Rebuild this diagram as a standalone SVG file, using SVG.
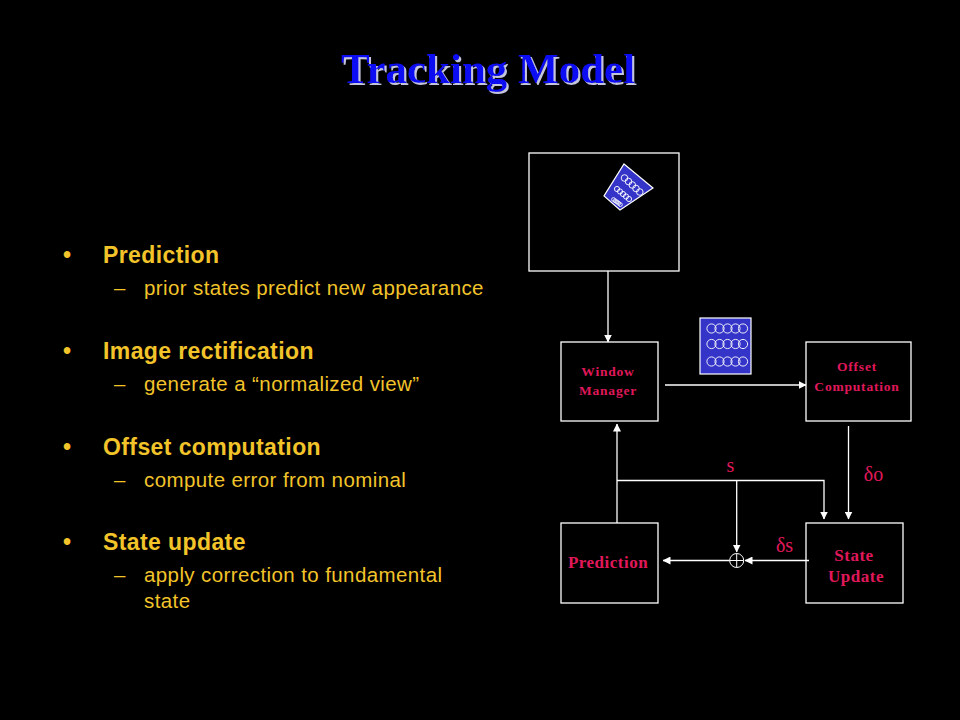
<svg xmlns="http://www.w3.org/2000/svg" width="960" height="720" viewBox="0 0 960 720">
<defs>
<marker id="ah" markerWidth="8" markerHeight="8" refX="7.5" refY="4" orient="auto" markerUnits="userSpaceOnUse">
<path d="M0,0 L8,4 L0,8 z" fill="#ffffff"/>
</marker>
<filter id="shadow" x="-5%" y="-20%" width="110%" height="150%">
<feOffset in="SourceAlpha" dx="2" dy="2" result="off"/>
<feFlood flood-color="#c4c4dc" result="col"/>
<feComposite in="col" in2="off" operator="in" result="sh"/>
<feMerge><feMergeNode in="sh"/><feMergeNode in="SourceGraphic"/></feMerge>
</filter>
<style>
.bg{fill:#000000}
.title{font-family:"Liberation Serif","Times New Roman",serif;font-weight:bold;font-size:43px;text-anchor:middle;fill:#1010f4}
.head{font-family:"Liberation Sans",Arial,sans-serif;font-weight:bold;font-size:23px;letter-spacing:0.4px;fill:#f2c42a}
.sub{font-family:"Liberation Sans",Arial,sans-serif;font-size:20.5px;letter-spacing:0.4px;fill:#f2c42a}
.box{fill:none;stroke:#ffffff;stroke-width:1.3}
.lbl{font-family:"Liberation Serif","Times New Roman",serif;font-weight:bold;fill:#e0185a;text-anchor:middle}
.small{font-size:13.5px;letter-spacing:0.8px}
.big{font-size:17px;letter-spacing:0.5px}
.sym{font-family:"Liberation Serif","Times New Roman",serif;fill:#e0185a;text-anchor:middle;font-size:20px}
.conn{fill:none;stroke:#ffffff;stroke-width:1.3}
.ring{fill:none;stroke:#ffffff;stroke-width:0.9}
.chip{fill:#3434c8;stroke:#ffffff;stroke-width:1.2}
</style>
</defs>
<rect class="bg" x="0" y="0" width="960" height="720"/>

<g id="title">
<text class="title" x="488" y="83" filter="url(#shadow)">Tracking Model</text>
</g>

<g id="bullets">
<text class="head" x="63" y="263">•</text>
<text class="head" x="103" y="263">Prediction</text>
<text class="sub" x="114" y="295">–</text>
<text class="sub" x="144" y="295">prior states predict new appearance</text>
<text class="head" x="63" y="359">•</text>
<text class="head" x="103" y="359">Image rectification</text>
<text class="sub" x="114" y="391">–</text>
<text class="sub" x="144" y="391">generate a “normalized view”</text>
<text class="head" x="63" y="455">•</text>
<text class="head" x="103" y="455">Offset computation</text>
<text class="sub" x="114" y="487">–</text>
<text class="sub" x="144" y="487">compute error from nominal</text>
<text class="head" x="63" y="550">•</text>
<text class="head" x="103" y="550">State update</text>
<text class="sub" x="114" y="582">–</text>
<text class="sub" x="144" y="582">apply correction to fundamental</text>
<text class="sub" x="144" y="608">state</text>
</g>

<g id="image-frame">
<rect class="box" x="529" y="153" width="150" height="118"/>
<polygon class="chip" points="624,164 653,188 620,210 604,196"/>
<g class="ring">
<circle cx="624.5" cy="178" r="3.3"/><circle cx="628.5" cy="181.5" r="3.3"/><circle cx="632.3" cy="185" r="3.3"/><circle cx="636" cy="188.5" r="3.3"/><circle cx="639.8" cy="192" r="3.3"/>
<circle cx="617" cy="189" r="2.6"/><circle cx="620" cy="191.5" r="2.6"/><circle cx="623" cy="194" r="2.6"/><circle cx="626" cy="196.5" r="2.6"/><circle cx="629" cy="199" r="2.6"/>
<circle cx="613.5" cy="199.5" r="1.9"/><circle cx="615.2" cy="200.8" r="1.9"/><circle cx="617" cy="202" r="1.9"/><circle cx="618.7" cy="203.3" r="1.9"/><circle cx="620.4" cy="204.6" r="1.9"/>
</g>
</g>

<g id="window-manager">
<rect class="box" x="561" y="342" width="97" height="79"/>
<text class="lbl small" x="608" y="376">Window</text>
<text class="lbl small" x="608" y="395">Manager</text>
</g>

<g id="rectified-chip">
<rect class="chip" x="700" y="318" width="51" height="56"/>
<g class="ring">
<circle cx="711.5" cy="328.5" r="4.6"/><circle cx="719.5" cy="328.5" r="4.6"/><circle cx="727.5" cy="328.5" r="4.6"/><circle cx="735.5" cy="328.5" r="4.6"/><circle cx="743" cy="328.5" r="4.6"/>
<circle cx="711.5" cy="344" r="4.6"/><circle cx="719.5" cy="344" r="4.6"/><circle cx="727.5" cy="344" r="4.6"/><circle cx="735.5" cy="344" r="4.6"/><circle cx="743" cy="344" r="4.6"/>
<circle cx="711.5" cy="361.5" r="4.6"/><circle cx="719.5" cy="361.5" r="4.6"/><circle cx="727.5" cy="361.5" r="4.6"/><circle cx="735.5" cy="361.5" r="4.6"/><circle cx="743" cy="361.5" r="4.6"/>
</g>
</g>

<g id="offset-computation">
<rect class="box" x="806" y="342" width="105" height="79"/>
<text class="lbl small" x="857" y="371">Offset</text>
<text class="lbl small" x="857" y="391">Computation</text>
</g>

<g id="prediction">
<rect class="box" x="561" y="523" width="97" height="80"/>
<text class="lbl big" x="608" y="568">Prediction</text>
</g>

<g id="state-update">
<rect class="box" x="806" y="523" width="97" height="80"/>
<text class="lbl big" x="854" y="561">State</text>
<text class="lbl big" x="856" y="582">Update</text>
</g>

<g id="sum-junction">
<circle cx="736.7" cy="560.5" r="7" fill="none" stroke="#ffffff" stroke-width="1"/>
<line x1="736.7" y1="553.5" x2="736.7" y2="567.5" stroke="#ffffff" stroke-width="1"/>
<line x1="729.7" y1="560.5" x2="743.7" y2="560.5" stroke="#ffffff" stroke-width="1"/>
</g>

<g id="connectors">
<line class="conn" x1="608" y1="271" x2="608" y2="342" marker-end="url(#ah)"/>
<line class="conn" x1="665" y1="385" x2="806" y2="385" marker-end="url(#ah)"/>
<line class="conn" x1="848.5" y1="426" x2="848.5" y2="519" marker-end="url(#ah)"/>
<line class="conn" x1="617" y1="523" x2="617" y2="424" marker-end="url(#ah)"/>
<polyline class="conn" points="617,480.5 824,480.5 824,519" marker-end="url(#ah)"/>
<line class="conn" x1="736.7" y1="480.5" x2="736.7" y2="552" marker-end="url(#ah)"/>
<line class="conn" x1="809" y1="560.5" x2="745" y2="560.5" marker-end="url(#ah)"/>
<line class="conn" x1="729.7" y1="560.5" x2="663" y2="560.5" marker-end="url(#ah)"/>
<text class="sym" x="730.5" y="472">s</text>
<text class="sym" x="873.5" y="481">δo</text>
<text class="sym" x="784.5" y="552">δs</text>
</g>
</svg>
